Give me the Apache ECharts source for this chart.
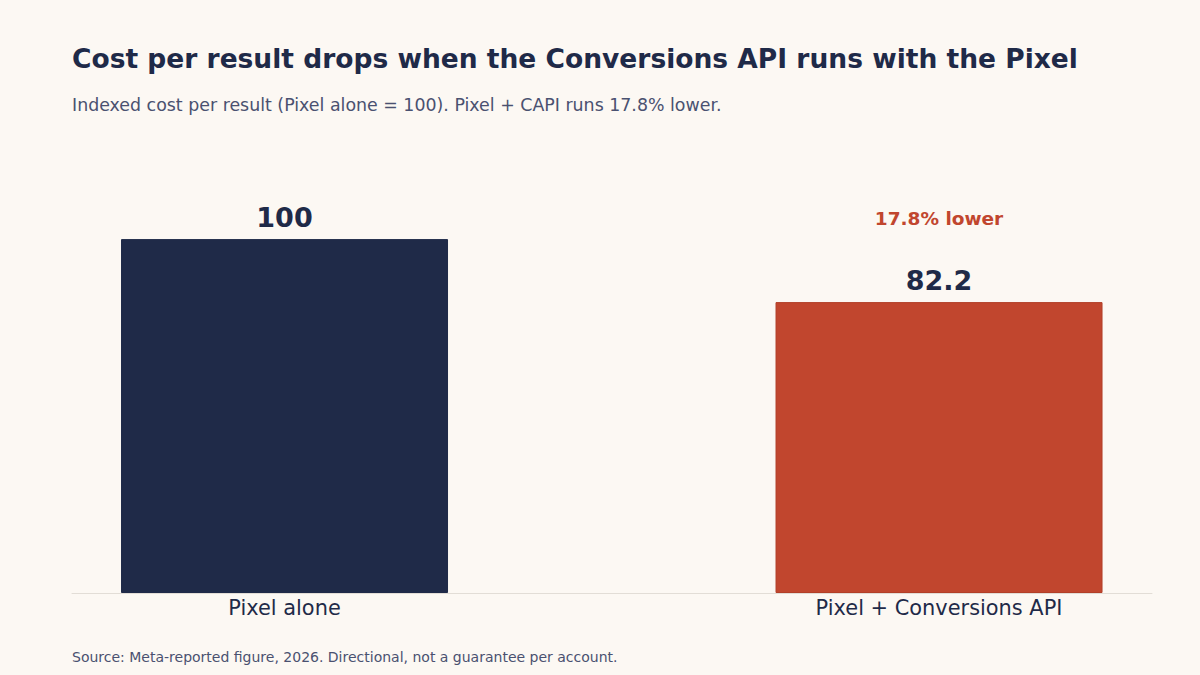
<!DOCTYPE html>
<html>
<head>
<meta charset="utf-8">
<script src="https://cdn.jsdelivr.net/npm/echarts@6/dist/echarts.min.js"></script>
<style>
  html, body { margin: 0; padding: 0; background: #fcf8f3; font-family: 'DejaVu Sans'; }
  #chart { width: 1200px; height: 675px; }
</style>
</head>
<body>
<div id="chart"></div>
<script>
// Chart data
var categories = ['Pixel alone', 'Pixel + Conversions API'];
var costIndex = [100, 82.2];
var barColors = ['#1f2a48', '#c1462e'];
var diffLabel = '17.8% lower';

var NAVY = '#1f2a48';
var RED = '#c1462e';
var FONT = 'DejaVu Sans';

// svg renderer so the browser lays out the system font itself
var chart = echarts.init(document.getElementById('chart'), null, { renderer: 'svg' });

var barData = costIndex.map(function(v, i) {
  return {
    value: [i, v],
    itemStyle: { color: barColors[i], borderColor: i === 1 ? '#b23f28' : barColors[i], borderWidth: 1 }
  };
});

chart.setOption({
  backgroundColor: '#fcf8f3',
  animation: false,
  textStyle: { fontFamily: FONT },
  title: [
    {
      text: 'Cost per result drops when the Conversions API runs with the Pixel',
      left: 72, top: 45, padding: 0,
      textStyle: { fontFamily: FONT, fontSize: 26.5, fontWeight: 'bold', color: NAVY }
    },
    {
      text: 'Indexed cost per result (Pixel alone = 100). Pixel + CAPI runs 17.8% lower.',
      left: 72, top: 96, padding: 0,
      textStyle: { fontFamily: FONT, fontSize: 17.4, fontWeight: 'normal', color: '#4a5170' }
    },
    {
      text: 'Source: Meta-reported figure, 2026. Directional, not a guarantee per account.',
      left: 72, top: 650, padding: 0,
      textStyle: { fontFamily: FONT, fontSize: 14, fontWeight: 'normal', color: '#4a5170' }
    }
  ],
  grid: { left: 72, right: 48, top: 180, bottom: 82 },
  xAxis: {
    type: 'value',
    min: -0.3247,
    max: 1.3254,
    splitLine: { show: false },
    axisLine: { show: true, lineStyle: { color: '#e2ddd6', width: 1 } },
    axisTick: { show: false },
    axisLabel: {
      customValues: [0, 1],
      formatter: function(v) { return categories[Math.round(v)] || ''; },
      fontFamily: FONT, fontSize: 20.9, color: NAVY, margin: 4
    }
  },
  yAxis: {
    type: 'value',
    min: 0,
    max: 116.7,
    show: false,
    splitLine: { show: false }
  },
  series: [
    {
      type: 'bar',
      barWidth: 327,
      data: barData,
      label: {
        show: true,
        position: 'top',
        distance: 8,
        formatter: function(p) { return String(p.value[1]); },
        fontFamily: FONT, fontSize: 27, fontWeight: 'bold', color: NAVY
      },
      z: 2
    },
    {
      type: 'scatter',
      symbolSize: 0,
      itemStyle: { opacity: 1 },
      data: [[1, costIndex[0]]],
      label: {
        show: true,
        position: 'top',
        distance: 11,
        formatter: diffLabel,
        fontFamily: FONT, fontSize: 18.5, fontWeight: 'bold', color: RED
      },
      silent: true,
      z: 3
    }
  ]
});
</script>
</body>
</html>
